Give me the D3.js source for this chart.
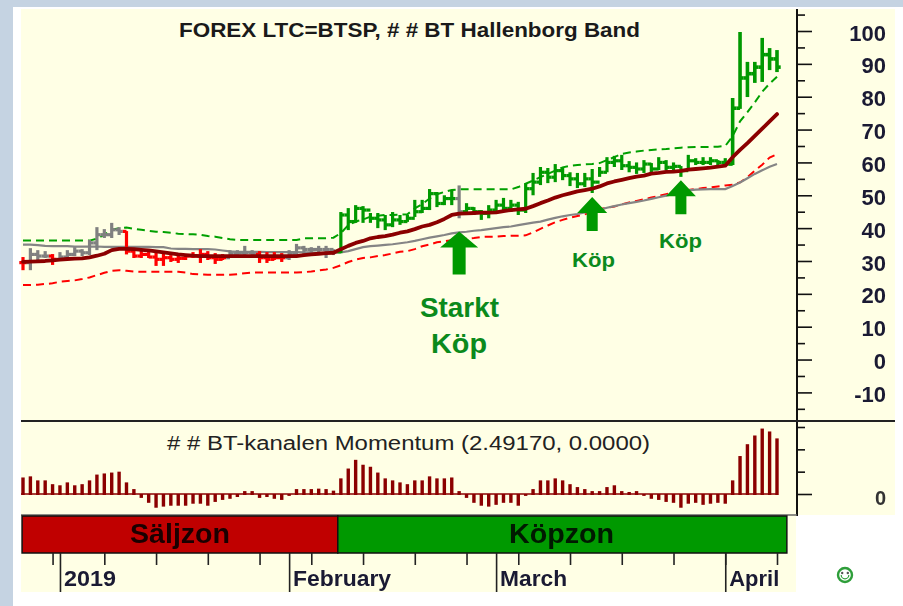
<!DOCTYPE html>
<html>
<head>
<meta charset="utf-8">
<script src="https://cdn.jsdelivr.net/npm/d3@7"></script>
<style>
  html, body { margin: 0; padding: 0; background: #fff; }
  svg { display: block; font-family: "Liberation Sans", Arial, sans-serif; filter: blur(0.45px); }
</style>
</head>
<body>
<div id="chart1"></div>
<script>

// one value per calendar day, 27 Dec 2018 to 8 Apr 2019, ten to a line
const highs = [
  31.2,33.9,33.3,33,32.1,32.7,33.3,34.2,33.6,36.4,
  40.3,39.7,41.6,40.3,39.1,33.3,33.3,33.3,32.7,32.7,
  31.8,31.8,32.1,32.7,33.6,33,32.4,32.1,33.3,33.3,
  34.6,33.3,33,32.7,32.7,32.4,33.3,35.2,34.6,34.2,
  34.6,34.6,33.6,44.9,46.1,47,46.7,44.6,44.6,44,
  44.9,44,44,48.6,48.6,51.9,51,50,51.6,53,
  47.6,46.4,45.5,47,48.6,49.2,48.6,48,53.7,56.8,
  58.6,58.3,59.5,58.3,57,56.8,56.8,58,58.6,61.6,
  62,62.3,60.4,60,60.7,59.8,61.6,60.7,60,58.9,
  62.3,61.3,61.6,61.6,60.7,61.3,79.6,99.7,90.6,90.6,
  97.9,94.8,94.2];
const lows = [
  27.2,27.2,29.7,30.9,28.8,30.9,30.9,31.5,31.5,31.8,
  33.3,37,37,37.9,32,30.9,30.9,30.9,28.5,28.5,
  29.7,29.4,30.3,30.9,29.4,30.3,29.1,30.3,30.9,31.2,
  31.5,31.2,29.4,29.4,30.3,29.7,30.3,31.8,31.5,32.1,
  32.1,30.9,31.8,32.4,39.4,41.6,41.6,41.6,40,39.4,
  40.3,41,41.9,43.4,44.6,45.5,46.4,47,47,43,
  44,44,42.5,43,44.6,44.9,44.9,44,44.6,50,
  53.1,53.7,54,54.6,52.8,52.2,52.5,50.7,55.6,57,
  58.6,57.7,57,56.5,56.8,56.8,57.7,57.7,57.7,55.6,
  57.7,59.2,59.2,59.2,59.2,59.2,59.2,76.3,79.9,84.2,
  84.5,88.1,87.5];
const closes = [
  29.5,32,31.5,31.5,30.5,31.2,32,33,32.5,35.5,
  38,38,39.5,39,33,31.5,32,31.2,30.5,31,
  30.5,30.8,31.5,31.5,32,31,30.5,31,32.2,32.4,
  32.5,32,31,30.5,31,31,32,34,33.5,33.5,
  33.5,33.5,32.8,44,42,46,45.5,43,42.5,41,
  42.5,42,43,45,46,50.5,47.5,49,49,45,
  46,45,44.5,45.5,47,46,47,45.5,52,54,
  57,55.5,57.5,56,55,53.5,55,54,57,60,
  60.5,59,58.5,58,59.5,58,60,58.5,58.8,57.5,
  60.5,60,60,60.5,60,59.5,76.5,85.7,87,89,
  92.8,91.5,89];
// r = under the band, s = neutral, g = over the band
const barStates = ("r sss r sssssssss rrrrrrrrrrrrrr ssss rrrr sssssss " +
  "gggggggggggggggg s " +
  "ggggggggggggggggggggggggggggggggggggggggggg").replace(/ /g, "").split("");

const movingAvg = [
  29.7,29.8,29.9,30,30.2,30.4,30.6,30.7,30.8,31.1,
  31.6,32.2,33.3,33.7,33.7,33.6,33.4,33.2,32.9,32.6,
  32.3,32,31.8,31.6,31.5,31.5,31.5,31.5,31.5,31.5,
  31.5,31.5,31.5,31.5,31.5,31.5,31.5,31.5,31.8,32,
  32.2,32.4,32.5,33.6,34.6,35.5,36.1,36.9,37.3,37.6,
  38,38.6,39,39.7,40.5,41,41.8,42.8,44,44.4,
  44.5,44.6,44.7,44.7,44.8,45.2,45.5,45.7,45.9,46.7,
  47.6,48.4,49.3,50,50.6,51.2,51.6,52,52.7,53.6,
  54.2,54.7,55.2,55.7,56,56.6,56.8,57.1,57.2,57.4,
  57.8,58,58.2,58.4,58.7,59,61.6,63.8,65.9,68.1,
  70.3,72.5,74.7];
const midBand = [
  35,35,34.8,34.6,34.5,34.5,34.5,34.4,34.4,34.4,
  34.4,34.3,34.3,34.3,34.3,34.3,34.3,34.3,34.2,34.2,
  33.8,33.7,33.7,33.6,33.6,33.6,33.5,33.2,32.9,32.8,
  32.8,32.8,32.8,32.7,32.7,32.7,32.7,32.7,32.6,32.6,
  32.5,32.5,32.5,32.6,33,33.6,34.2,34.5,34.7,34.9,
  35.1,35.4,35.7,36.1,36.6,37.1,37.5,37.9,38.4,38.7,
  38.9,39.2,39.4,39.7,40,40.3,40.5,40.9,41.3,41.7,
  42,42.6,43.1,43.6,44,44.3,44.8,45,45.6,46.2,
  46.7,47.2,47.6,48,48.4,48.9,49.4,49.9,50.4,51,
  51.5,51.7,51.8,51.9,51.9,51.9,52.8,53.9,55.2,56.5,
  57.6,58.7,59.5];
const upperBand = [
  36.2,36.2,36.2,36.2,36.2,36.2,36.2,36.2,36.2,36.2,
  36.8,38,39.5,40,40.2,39.8,39.5,39.2,38.9,38.8,
  38.6,38.3,38.2,38.1,38,37.6,37.4,37,36.6,36.4,
  36.4,36.4,36.4,36.4,36.4,36.4,36.4,36.4,36.9,36.9,
  36.9,36.9,37.1,38.5,40.9,42,42.6,43.5,43.8,44,
  44,44.1,44.2,46,47.3,49,50.3,51,51.6,51.8,
  51.8,51.8,51.8,51.8,51.8,51.8,51.8,52.5,53.5,54.5,
  55.5,56.5,57.5,58.5,59,59.2,59.4,59.5,59.8,60.7,
  61.6,62.6,63,63.3,63.6,63.8,64,64.1,64.3,64.5,
  64.6,64.7,64.7,64.7,64.8,65,68,72.5,75.3,78.3,
  81.5,84,86.1];
const lowerBand = [
  22.7,22.7,22.8,23,23.2,23.7,23.9,24.1,24.5,25,
  25.7,26.4,27,27.2,27,26.8,26.7,26.7,26.7,26.7,
  26.7,26.7,26.5,26,25.9,25.8,25.8,25.8,25.8,26,
  26.3,26.5,26.5,26.5,26.5,26.5,26.5,26.5,26.6,26.8,
  27.1,27.4,27.9,28.7,29.7,30.4,30.9,31.1,31.5,31.8,
  32.3,32.8,33,33.6,34.5,35,35.7,36,36.3,36.6,
  36.8,37,37.3,37.4,37.4,37.6,37.7,37.7,37.8,38.7,
  39.8,40.8,41.8,42.5,43.2,43.7,44.2,45,45.8,46.2,
  46.6,47.2,47.8,48.3,48.8,49.3,49.8,50.3,50.8,51.2,
  51.6,51.9,52.2,52.4,52.7,53,53.2,53.9,55.5,57.5,
  59.3,61.5,62.5];
const momentum = [
  .74,.79,.61,.61,.44,.39,.52,.39,.44,.61,
  .87,.92,.96,1,.52,.22,-.13,-.35,-.57,-.52,
  -.48,-.48,-.48,-.39,-.39,-.48,-.31,-.22,-.17,-.09,
  .13,.13,-.13,-.09,-.17,-.22,-.04,.22,.22,.22,
  .24,.22,.15,.7,1.14,1.53,1.31,1.22,.96,.7,
  .61,.52,.44,.61,.61,.79,.7,.7,.74,.13,
  -.13,-.35,-.48,-.52,-.44,-.35,-.35,-.48,-.04,.22,
  .61,.61,.7,.61,.44,.31,.22,.13,.13,.31,
  .39,.13,.09,.13,-.04,-.17,-.22,-.31,-.35,-.57,
  -.39,-.35,-.44,-.39,-.35,-.39,.61,1.7,2.23,2.62,
  2.93,2.8,2.49];

const priceMajor = [-10, 0, 10, 20, 30, 40, 50, 60, 70, 80, 90, 100];
const priceMinor = [-15, -5, 5, 15, 25, 35, 45, 55, 65, 75, 85, 95, 105];
const momentumMajor = [0];
const momentumMinor = [1, 2, 3];

const monthLabels = ["2019", "February", "March", "April"];
const monthDates = [new Date(Date.UTC(2019, 0, 1)), new Date(Date.UTC(2019, 1, 1)), new Date(Date.UTC(2019, 2, 1)), new Date(Date.UTC(2019, 3, 1))];

const zoneLabels = ["Säljzon", "Köpzon"];
const zoneStarts = [new Date(Date.UTC(2018, 11, 26, 21)), new Date(Date.UTC(2019, 1, 7, 14))];
const zoneEnds = [new Date(Date.UTC(2019, 1, 7, 14)), new Date(Date.UTC(2019, 3, 9, 8))];

const arrowDates = [new Date(Date.UTC(2019, 1, 24)), new Date(Date.UTC(2019, 2, 14)), new Date(Date.UTC(2019, 2, 26))];
const arrowTips = [39, 49.5, 54.6];

const width = 903;
const height = 606;

const cream = "#ffffe5";
const frameBlue = "#c5d3e2";
const darkRed = "#8b0000";
const buyGreen = "#009900";

const days = d3.utcDay.range(new Date(Date.UTC(2018, 11, 27)), new Date(Date.UTC(2019, 3, 9)));

const x = d3.scaleUtc().domain([days[0], days[days.length - 1]]).range([23, 777]);
const y = d3.scaleLinear().domain([-10, 100]).range([392.4, 31]);
const ym = d3.scaleLinear().domain([0, 3]).range([494, 427]);

const svg = d3.select("#chart1").append("svg")
    .attr("width", width)
    .attr("height", height);

// page frame
svg.append("rect").attr("x", 0).attr("y", 0).attr("width", 13).attr("height", height).attr("fill", frameBlue);
svg.append("rect").attr("x", 0).attr("y", 0).attr("width", width).attr("height", 7).attr("fill", frameBlue);
svg.append("rect").attr("x", 21).attr("y", 9).attr("width", 874).attr("height", 506).attr("fill", cream);
svg.append("rect").attr("x", 21).attr("y", 515).attr("width", 775).attr("height", 77).attr("fill", cream);

function label(str, px, py, size, len, weight, fill) {
  return svg.append("text")
      .attr("x", px).attr("y", py)
      .attr("font-size", size)
      .attr("font-weight", weight)
      .attr("fill", fill)
      .attr("textLength", len)
      .attr("lengthAdjust", "spacingAndGlyphs")
      .text(str);
}

// bands
const line = d3.line().x((d, i) => x(days[i])).y(d => y(d));

svg.append("path").datum(upperBand)
    .attr("fill", "none").attr("stroke", "#00a000").attr("stroke-width", 2)
    .attr("stroke-dasharray", "8,5").attr("d", line);
svg.append("path").datum(lowerBand)
    .attr("fill", "none").attr("stroke", "#ff0000").attr("stroke-width", 2)
    .attr("stroke-dasharray", "8,5").attr("d", line);
svg.append("path").datum(midBand)
    .attr("fill", "none").attr("stroke", "#858585").attr("stroke-width", 2.2).attr("d", line);

// price bars: high-low stick, previous close on the left, close on the right
const barColor = { r: "#ff0000", s: "#808080", g: buyGreen };
const bars = svg.append("g").selectAll("g")
    .data(days)
    .join("g")
    .attr("stroke", (d, i) => barColor[barStates[i]])
    .attr("stroke-width", (d, i) => i > 95 ? 3.6 : 3.2);
bars.append("line")
    .attr("x1", d => x(d)).attr("x2", d => x(d))
    .attr("y1", (d, i) => y(highs[i])).attr("y2", (d, i) => y(lows[i]));
bars.append("line")
    .attr("x1", d => x(d) - 3.7).attr("x2", d => x(d))
    .attr("y1", (d, i) => y(i ? closes[i - 1] : closes[i])).attr("y2", (d, i) => y(i ? closes[i - 1] : closes[i]));
bars.append("line")
    .attr("x1", d => x(d)).attr("x2", d => x(d) + 3.7)
    .attr("y1", (d, i) => y(closes[i])).attr("y2", (d, i) => y(closes[i]));

svg.append("path").datum(movingAvg)
    .attr("fill", "none").attr("stroke", darkRed).attr("stroke-width", 3.8)
    .attr("stroke-linejoin", "round").attr("stroke-linecap", "round").attr("d", line);

// buy arrows
arrowDates.forEach(function(d, i) {
  const big = i === 0;
  const cx = x(d), tip = y(arrowTips[i]);
  const hw = big ? 19 : 15, hh = 16, sw = big ? 6.5 : 5.5, total = big ? 43 : 34;
  const p = d3.path();
  p.moveTo(cx, tip);
  p.lineTo(cx + hw, tip + hh);
  p.lineTo(cx + sw, tip + hh);
  p.lineTo(cx + sw, tip + total);
  p.lineTo(cx - sw, tip + total);
  p.lineTo(cx - sw, tip + hh);
  p.lineTo(cx - hw, tip + hh);
  p.closePath();
  svg.append("path").attr("d", p.toString()).attr("fill", buyGreen);
});

label("Starkt", 420, 317, 28, 79, "bold", "#0b8a1c");
label("Köp", 431, 353, 28, 56, "bold", "#0b8a1c");
label("Köp", 572, 267, 21, 43, "bold", "#0b8a1c");
label("Köp", 659, 248, 21, 43, "bold", "#0b8a1c");

label("FOREX LTC=BTSP, # # BT Hallenborg Band", 179, 37, 21, 461, "bold", "#1a1a1a");
label("# # BT-kanalen Momentum  (2.49170, 0.0000)", 167, 450, 20, 483, "normal", "#222");

// momentum panel
svg.append("g").selectAll("rect")
    .data(days)
    .join("rect")
    .attr("x", d => x(d) - 1.7)
    .attr("width", 3.4)
    .attr("y", (d, i) => momentum[i] > 0 ? ym(momentum[i]) : ym(0))
    .attr("height", (d, i) => Math.abs(ym(momentum[i]) - ym(0)) + 1)
    .attr("fill", darkRed);
svg.append("line")
    .attr("x1", 21).attr("x2", x(days[days.length - 1]))
    .attr("y1", ym(0)).attr("y2", ym(0))
    .attr("stroke", darkRed).attr("stroke-width", 1.6);

// right hand axes
const axisG = svg.append("g").attr("transform", "translate(797,0)");

axisG.append("g").call(d3.axisRight(y).tickValues(priceMinor).tickSize(8).tickFormat(""));
axisG.append("g").call(d3.axisRight(y).tickValues(priceMajor).tickSize(15).tickFormat(d => String(d)))
    .call(g => g.selectAll("text")
      .attr("x", 89).attr("y", 2)
      .attr("text-anchor", "end")
      .attr("font-family", '"Liberation Sans", Arial, sans-serif')
      .attr("font-size", 22).attr("font-weight", "bold")
      .attr("fill", "#1a1a33"));

axisG.append("g").call(d3.axisRight(ym).tickValues(momentumMinor).tickSize(8).tickFormat(""));
axisG.append("g").call(d3.axisRight(ym).tickValues(momentumMajor).tickSize(15).tickFormat(d => String(d)))
    .call(g => g.selectAll("text")
      .attr("x", 89).attr("y", 4)
      .attr("text-anchor", "end")
      .attr("font-family", '"Liberation Sans", Arial, sans-serif')
      .attr("font-size", 20).attr("font-weight", "bold")
      .attr("fill", "#333"));

axisG.selectAll(".domain").remove();
axisG.selectAll("line").attr("stroke", "#111").attr("stroke-width", 1.6);

svg.append("line").attr("x1", 797).attr("x2", 797).attr("y1", 9).attr("y2", 516).attr("stroke", "#111").attr("stroke-width", 2);
svg.append("line").attr("x1", 21).attr("x2", 895).attr("y1", 421).attr("y2", 421).attr("stroke", "#222").attr("stroke-width", 2);
svg.append("line").attr("x1", 21).attr("x2", 797).attr("y1", 515).attr("y2", 515).attr("stroke", "#666").attr("stroke-width", 1.5);

// zone bar
const zoneColor = ["#c00000", buyGreen];
zoneLabels.forEach(function(z, i) {
  svg.append("rect")
      .attr("x", x(zoneStarts[i])).attr("y", 516)
      .attr("width", x(zoneEnds[i]) - x(zoneStarts[i])).attr("height", 37)
      .attr("fill", zoneColor[i]).attr("stroke", "#111").attr("stroke-width", 1.5);
});
label(zoneLabels[0], 130, 543, 28, 100, "bold", "#1a0000");
label(zoneLabels[1], 509, 543, 28, 105, "bold", "#001a00");

// time axis
const timeG = svg.append("g").attr("transform", "translate(0,553)");
timeG.append("g").call(d3.axisBottom(x)
    .tickValues(d3.utcMonday.range(new Date(Date.UTC(2018, 11, 30)), new Date(Date.UTC(2019, 3, 9))))
    .tickSize(12).tickFormat(""));
timeG.append("g").call(d3.axisBottom(x).tickValues(monthDates).tickSize(39).tickFormat(""));
timeG.selectAll(".domain").remove();
timeG.selectAll("line").attr("stroke", "#222").attr("stroke-width", 1.6);

const monthWidths = [52, 98, 67, 50];
monthLabels.forEach(function(m, i) {
  label(m, x(monthDates[i]) + 4, 586, 22, monthWidths[i], "bold", "#1a1a33");
});

// the little smiley in the corner
const smile = svg.append("g").attr("transform", "translate(845,575)");
smile.append("circle").attr("r", 7).attr("fill", "#fff").attr("stroke", "#2e9e3a").attr("stroke-width", 2.4);
smile.append("circle").attr("cx", -2.8).attr("cy", -2).attr("r", 1.2).attr("fill", "#555");
smile.append("circle").attr("cx", 2.8).attr("cy", -2).attr("r", 1.2).attr("fill", "#555");
smile.append("path").attr("d", d3.arc()({ innerRadius: 3.2, outerRadius: 4.4, startAngle: Math.PI / 2, endAngle: 3 * Math.PI / 2 })).attr("fill", "#2e9e3a");

</script>
</body>
</html>
